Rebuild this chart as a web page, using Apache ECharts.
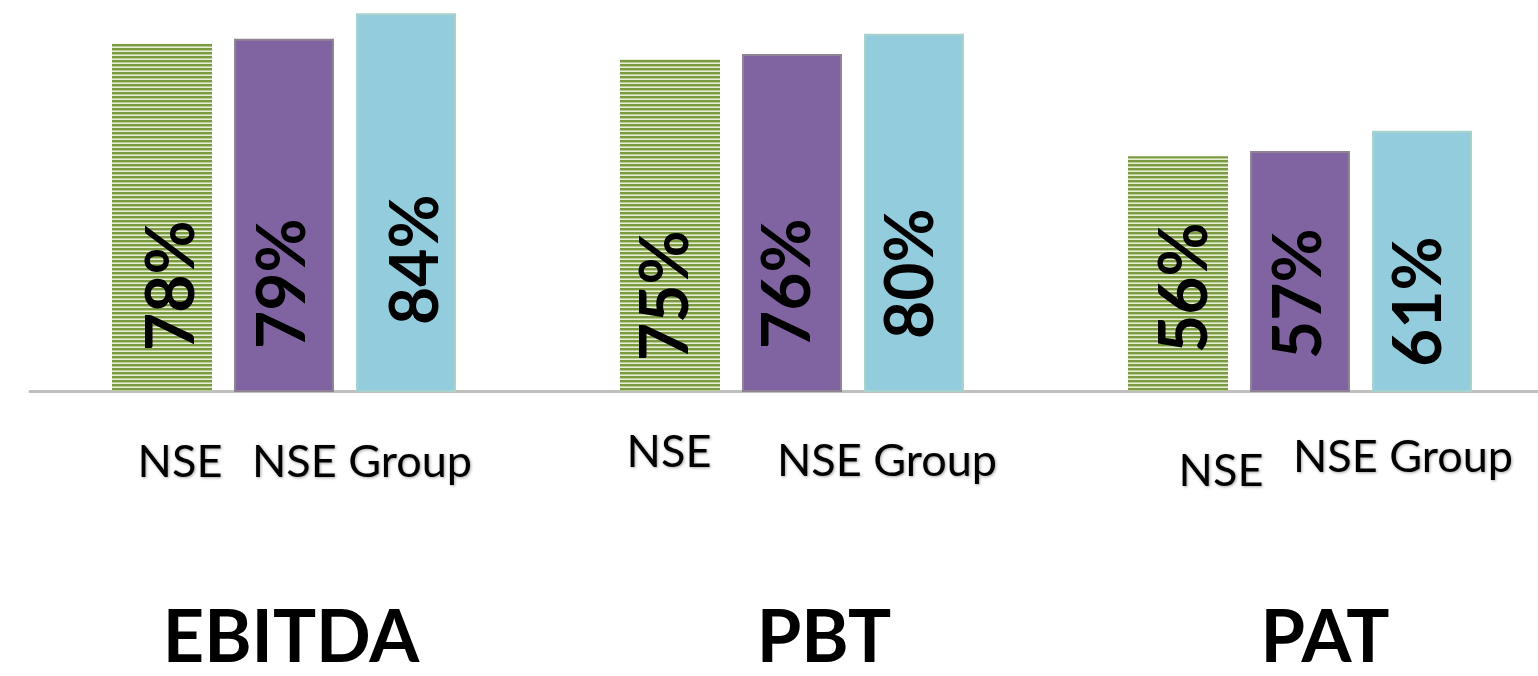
<!DOCTYPE html>
<html><head><meta charset="utf-8">
<script src="https://cdn.jsdelivr.net/npm/echarts@6/dist/echarts.min.js"></script>
<style>html,body{margin:0;padding:0;background:#fff;overflow:hidden}#c{width:1554px;height:676px}</style>
</head><body><div id="c"></div>
<script>
// ---- data ----
const categories = ['EBITDA', 'PBT', 'PAT'];
const seriesNames = ['NSE', 'NSE Group', 'Series 3'];
const nseValues = [78, 75, 56];
const nseGroupValues = [79, 76, 57];
const thirdValues = [84, 80, 61];
const subLabelTexts = ['NSE', 'NSE Group'];

// ---- layout tweaks (style only) ----
const labelLift = [[40, 30, 38], [43, 43, 33], [67, 53, 25]];
const labelShift = [[11, -3, 8], [0, -3, 0], [11, -2, -2]];
const titleDx = [7, 32, 25];
const subDx = [[-104, -123, -79], [78, 95, 103]];
const subDy = [[71, 61, 80], [71, 70, 66]];

// stripe pattern for green bars
const pat = document.createElement('canvas');
pat.width = 4; pat.height = 4;
const pctx = pat.getContext('2d');
['#7b9a42', '#7b9a42', '#b9cd92', '#e6eed6'].forEach((c, i) => { pctx.fillStyle = c; pctx.fillRect(0, i, 4, 1); });

const chart = echarts.init(document.getElementById('c'), null, { renderer: 'canvas' });
const colors = [{ image: pat, repeat: 'repeat' }, '#8064a2', '#93cddd'];
const borders = ['rgba(0,0,0,0)', '#8f8394', '#a8d2cc'];
const allValues = [nseValues, nseGroupValues, thirdValues];

const option = {
  animation: false,
  backgroundColor: '#ffffff',
  grid: { left: 30, right: 0, top: 3, height: 388, containLabel: false },
  xAxis: {
    type: 'category', data: categories,
    axisLine: { show: true, lineStyle: { color: '#bfbfbf', width: 3 } },
    axisTick: { show: false }, axisLabel: { show: false }, splitLine: { show: false }
  },
  yAxis: { type: 'value', min: 10, max: 86, show: false, splitLine: { show: false } },
  series: allValues.map((vals, s) => ({
    name: seriesNames[s], type: 'bar', barWidth: 100, barGap: '22%',
    itemStyle: { color: colors[s], borderColor: borders[s], borderWidth: s === 0 ? 0 : 2 },
    label: {
      show: true, position: 'insideBottom', distance: 0, rotate: 90,
      align: 'left', verticalAlign: 'middle',
      formatter: '{c}%', color: '#000', fontFamily: 'Lato', fontWeight: 'bold', fontSize: 66
    },
    // label offset is applied in the rotated frame: [along text, across text]
    data: vals.map((v, i) => ({ value: v, label: { offset: [labelLift[s][i], labelShift[s][i]] } }))
  }))
};
chart.setOption(option);

const graphics = [];
categories.forEach((c, i) => {
  const p = chart.convertToPixel({ gridIndex: 0 }, [i, 10]);
  graphics.push({
    type: 'text', x: p[0] + titleDx[i], y: p[1] + 248,
    style: { text: c, fontFamily: 'Lato', fontWeight: 'bold', fontSize: 72, fill: '#000', align: 'center', verticalAlign: 'middle' }
  });
  subLabelTexts.forEach((t, k) => {
    graphics.push({
      type: 'text', x: p[0] + subDx[k][i], y: p[1] + subDy[k][i],
      style: { text: t, fontFamily: 'Lato', fontSize: 45, fill: '#000', align: 'center', verticalAlign: 'middle',
        textShadowColor: 'rgba(0,0,0,0.35)', textShadowBlur: 3, textShadowOffsetX: 1, textShadowOffsetY: 1 }
    });
  });
});
chart.setOption({ graphic: graphics });
</script></body></html>
